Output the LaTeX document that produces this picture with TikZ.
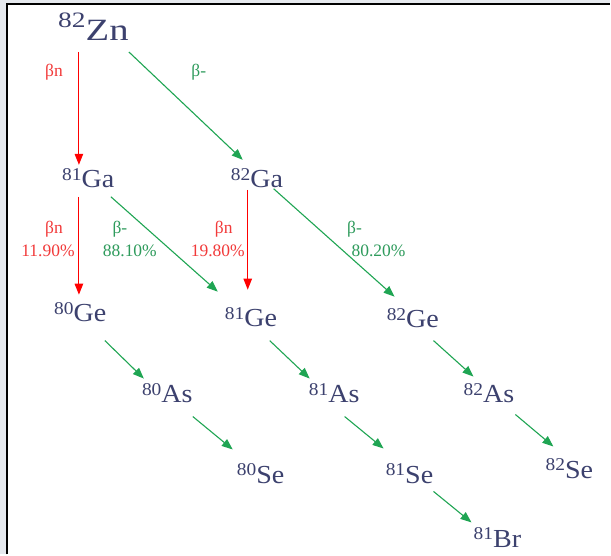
\documentclass[tikz,border=0pt]{standalone}
\usepackage{fontspec}
\setmainfont{Liberation Serif}
\newfontfamily\nucfont[FakeStretch=1.08]{Liberation Serif}
\newfontfamily\znfont[FakeStretch=1.25]{Liberation Serif}
\newfontfamily\lblfont{Liberation Serif}
\usetikzlibrary{arrows.meta}
\definecolor{cNuc}{HTML}{3C416E}
\definecolor{cBn}{HTML}{FF0000}
\definecolor{cBnText}{HTML}{F23A3A}
\definecolor{cBm}{HTML}{1FA553}
\definecolor{cBmText}{HTML}{2E9B5C}
\definecolor{cPane}{HTML}{E6E9EE}
\tikzset{
  nuc/.style={anchor=base west, inner sep=0pt, text=cNuc,
              font=\nucfont\fontsize{26}{26}\selectfont},
  parent/.style={nuc, font=\znfont\fontsize{31}{31}\selectfont},
  lbn/.style={inner sep=0pt, text=cBnText, font=\lblfont\fontsize{17.5}{17.5}\selectfont},
  lbm/.style={inner sep=0pt, text=cBmText, font=\lblfont\fontsize{17.5}{17.5}\selectfont},
  arn/.style={-{Triangle[length=11pt,width=8.5pt]}, line width=1.1pt, cBn},
  arm/.style={-{Triangle[length=11pt,width=8.5pt]}, line width=1.1pt, cBm},
}
\newcommand{\nuc}[2]{{\fontsize{18}{18}\selectfont\raisebox{7.5pt}{#1}}#2}

\begin{document}
\begin{tikzpicture}[x=1pt, y=-1pt]
  % window frame
  \fill[cPane] (0,0) rectangle (611,555);
  \fill[white] (7,4) rectangle (611,555);
  \draw[line width=1.4pt] (7,555) -- (7,4) -- (611,4);
  \useasboundingbox (0,0) rectangle (611,555);

  % nuclides
  \node[parent] (zn) at (58,41) {{\fontsize{22}{22}\selectfont\raisebox{13pt}{82}}Zn};
  \node[nuc] (ga81) at (62,188) {\nuc{81}{Ga}};
  \node[nuc] (ga82) at (231,188) {\nuc{82}{Ga}};
  \node[nuc] (ge80) at (54,322) {\nuc{80}{Ge}};
  \node[nuc] (ge81) at (225,327) {\nuc{81}{Ge}};
  \node[nuc] (ge82) at (387,328) {\nuc{82}{Ge}};
  \node[nuc] (as80) at (142,403) {\nuc{80}{As}};
  \node[nuc] (as81) at (309,403) {\nuc{81}{As}};
  \node[nuc] (as82) at (464,403) {\nuc{82}{As}};
  \node[nuc] (se80) at (237,484) {\nuc{80}{Se}};
  \node[nuc] (se81) at (386,484) {\nuc{81}{Se}};
  \node[nuc] (se82) at (546,479) {\nuc{82}{Se}};
  \node[nuc] (br81) at (474,548) {\nuc{81}{Br}};

  % decay labels
  \node[lbn] (znbn) at (54,72) {βn};
  \node[lbm] (znbm) at (199,72) {β-};
  \node[lbn] (ga81bn) at (54,229) {βn};
  \node[lbn] (ga81bnp) at (48,251) {11.90\%};
  \node[lbm] (ga81bm) at (120,229) {β-};
  \node[lbm] (ga81bmp) at (130,251) {88.10\%};
  \node[lbn] (ga82bn) at (224,229) {βn};
  \node[lbn] (ga82bnp) at (218,251) {19.80\%};
  \node[lbm] (ga82bm) at (355,229) {β-};
  \node[lbm] (ga82bmp) at (379,251) {80.20\%};

  % beta-n branches
  \draw[arn] ([shift={(21,11)}]zn.base west) -- ([shift={(17,-23)}]ga81.base west);
  \draw[arn] ([shift={(17,9)}]ga81.base west) -- ([shift={(25,-27)}]ge80.base west);
  \draw[arn] ([shift={(17,2)}]ga82.base west) -- ([shift={(23,-37)}]ge81.base west);

  % beta- branches
  \draw[arm] ([shift={(71,11)}]zn.base west) -- ([shift={(12,-28)}]ga82.base west);
  \draw[arm] ([shift={(49,9)}]ga81.base west) -- ([shift={(-7,-35)}]ge81.base west);
  \draw[arm] ([shift={(43,1)}]ga82.base west) -- ([shift={(8,-31)}]ge82.base west);
  \draw[arm] ([shift={(51,19)}]ge80.base west) -- ([shift={(2,-24)}]as80.base west);
  \draw[arm] ([shift={(51,14)}]as80.base west) -- ([shift={(-4,-34)}]se80.base west);
  \draw[arm] ([shift={(45,14)}]ge81.base west) -- ([shift={(1,-24)}]as81.base west);
  \draw[arm] ([shift={(36,14)}]as81.base west) -- ([shift={(-2,-35)}]se81.base west);
  \draw[arm] ([shift={(47,13)}]ge82.base west) -- ([shift={(10,-26)}]as82.base west);
  \draw[arm] ([shift={(52,12)}]as82.base west) -- ([shift={(8,-32)}]se82.base west);
  \draw[arm] ([shift={(48,8)}]se81.base west) -- ([shift={(-2,-25)}]br81.base west);
\end{tikzpicture}
\end{document}
